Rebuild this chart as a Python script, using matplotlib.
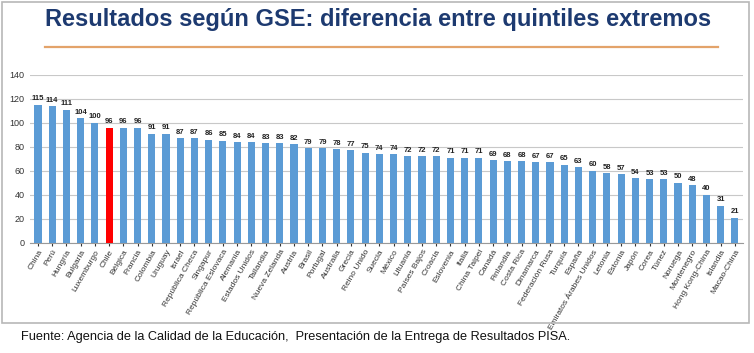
import matplotlib.pyplot as plt
from matplotlib.patches import Rectangle
from matplotlib.lines import Line2D

paises = ["China", "Perú", "Hungría", "Bulgaria", "Luxemburgo", "Chile", "Bélgica",
          "Francia", "Colombia", "Uruguay", "Israel", "República Checa", "Singapur",
          "República Eslovaca", "Alemania", "Estados Unidos", "Tailandia",
          "Nueva Zelanda", "Austria", "Brasil", "Portugal", "Australia", "Grecia",
          "Reino Unido", "Suecia", "México", "Lituania", "Países Bajos", "Croacia",
          "Eslovenia", "Italia", "China Taipei", "Canadá", "Finlandia", "Costa Rica",
          "Dinamarca", "Federación Rusa", "Turquía", "España",
          "Emiratos Árabes Unidos", "Letonia", "Estonia", "Japón", "Corea", "Túnez",
          "Noruega", "Montenegro", "Hong Kong-China", "Islandia", "Macao-China"]
diferencia = [115, 114, 111, 104, 100, 96, 96, 96, 91, 91, 87, 87, 86, 85, 84, 84,
              83, 83, 82, 79, 79, 78, 77, 75, 74, 74, 72, 72, 72, 71, 71, 71, 69, 68,
              68, 67, 67, 65, 63, 60, 58, 57, 54, 53, 53, 50, 48, 40, 31, 21]
destacado = "Chile"
yticks = [0, 20, 40, 60, 80, 100, 120, 140]

plt.rcParams['font.family'] = ['Liberation Sans', 'DejaVu Sans']

fig = plt.figure(figsize=(7.54, 3.53), dpi=100)
fig.patch.set_facecolor("white")

# marco de la diapositiva
fig.add_artist(Rectangle((0.003, 0.086), 0.990, 0.907, transform=fig.transFigure,
                         fill=False, edgecolor="#b8b8b8", linewidth=1.2))
fig.text(0.502, 0.946, "Resultados según GSE: diferencia entre quintiles extremos",
         ha="center", va="center", fontsize=17, fontweight="bold", color="#1D3A70")
fig.add_artist(Line2D([0.060, 0.952], [0.866, 0.866], transform=fig.transFigure,
                      color="#E3A36A", linewidth=1.6))

ax = fig.add_axes([0.040, 0.312, 0.945, 0.476])
x = range(len(paises))
colores = ["#FF0000" if p == destacado else "#5B9BD5" for p in paises]
ax.bar(x, diferencia, width=0.5, color=colores, zorder=3)
for xi, v in zip(x, diferencia):
    ax.text(xi, v + 2, str(v), ha="center", va="bottom", fontsize=5.5,
            fontweight="bold", color="#222222")

ax.set_xlim(-0.55, len(paises) - 0.45)
ax.set_ylim(0, 140)
ax.set_yticks(yticks)
ax.yaxis.grid(True, color="#c8c8c8", linewidth=0.8, zorder=0)
ax.tick_params(axis="y", labelsize=6.5, length=0, pad=4, colors="#333333")
ax.set_xticks(list(x))
ax.set_xticklabels(paises, rotation=60, ha="right", rotation_mode="anchor",
                   fontsize=6)
ax.tick_params(axis="x", length=2, pad=2, colors="#333333")
for s in ["top", "right", "left"]:
    ax.spines[s].set_visible(False)
ax.spines["bottom"].set_color("#999999")

fig.text(0.028, 0.045, "Fuente: Agencia de la Calidad de la Educación,  Presentación de la Entrega de Resultados PISA.",
         ha="left", va="center", fontsize=9.2, color="#111111")

fig.savefig("out.png", dpi=100)
